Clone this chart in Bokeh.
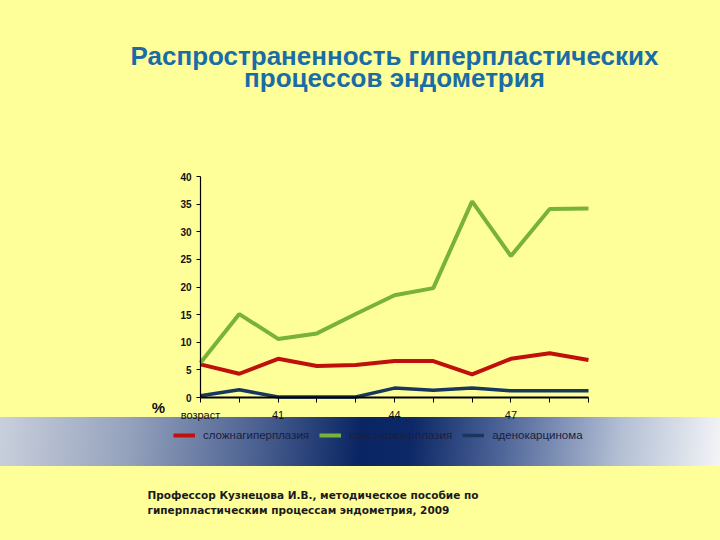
from bokeh.plotting import figure
from bokeh.models import (FixedTicker, Legend, LegendItem, Label, Range1d)
from bokeh.embed import file_html
from bokeh.resources import INLINE

# ---- data ----
x_idx = list(range(11))
x_labels = {0: "возраст", 2: "41", 5: "44", 8: "47"}
complex_hyper = [6.0, 4.3, 7.0, 5.7, 5.9, 6.6, 6.6, 4.2, 7.0, 8.0, 6.8]
simple_hyper = [6.3, 15.1, 10.6, 11.6, 15.1, 18.5, 19.8, 35.5, 25.6, 34.1, 34.2]
adenocarcinoma = [0.3, 1.4, 0.1, 0.1, 0.1, 1.7, 1.3, 1.7, 1.2, 1.2, 1.2]
series_names = ["сложнагиперплазия", "простагиперплазия", "аденокарцинома"]
y_ticks = [0, 5, 10, 15, 20, 25, 30, 35, 40]

title_line1 = "Распространенность гиперпластических"
title_line2 = "процессов эндометрия"
footer1 = "Профессор Кузнецова И.В., методическое пособие по"
footer2 = "гиперпластическим процессам эндометрия, 2009"

BG = "#ffff99"
W, H = 720, 540
# plot-area placement on the page (pixels)
PL, PR, PT, PB = 200, 588, 176, 397
XMIN, XMAX = 0, 10
YMIN, YMAX = 0, 40
xs = (PR - PL) / (XMAX - XMIN)
ys = (PB - PT) / (YMAX - YMIN)
x_range = Range1d(XMIN - PL / xs, XMAX + (W - PR) / xs)
y_range = Range1d(YMIN - (H - PB) / ys, YMAX + PT / ys)

p = figure(width=W, height=H, output_backend="svg", toolbar_location=None,
           x_range=x_range, y_range=y_range,
           min_border=0, min_border_left=0, min_border_right=0,
           min_border_top=0, min_border_bottom=0)
p.title.visible = False
p.background_fill_alpha = 0
p.border_fill_alpha = 0
p.outline_line_color = None
p.grid.visible = False
p.styles = {
    "background": "linear-gradient(95deg, #c9cfdc 0%, #95a2bd 18%, #4a6090 36%, "
                  "#0a2563 50%, #0d2866 57%, #50679a 70%, #b3bfd4 86%, #f3f4f7 100%) "
                  "0px 417px / 720px 49px no-repeat, " + BG
}

# axes (drawn at fixed data locations inside the frame)
p.xaxis.fixed_location = 0
p.xaxis.bounds = (XMIN, XMAX)
p.xaxis.ticker = FixedTicker(ticks=x_idx)
p.xaxis.major_label_overrides = {i: x_labels.get(i, "") for i in x_idx}
p.xaxis.axis_line_width = 2
p.xaxis.axis_line_color = "black"
p.xaxis.major_tick_in = 0
p.xaxis.major_tick_out = 5
p.xaxis.major_tick_line_color = "black"
p.xaxis.minor_tick_line_color = None
p.xaxis.major_label_text_font = "Liberation Sans"
p.xaxis.major_label_text_font_size = "11px"
p.xaxis.major_label_text_color = "#111111"
p.xaxis.major_label_standoff = 6

p.yaxis.fixed_location = 0
p.yaxis.bounds = (YMIN, YMAX)
p.yaxis.ticker = FixedTicker(ticks=y_ticks)
p.yaxis.axis_line_color = "black"
p.yaxis.axis_line_width = 1.2
p.yaxis.major_tick_in = 0
p.yaxis.major_tick_out = 4
p.yaxis.minor_tick_line_color = None
p.yaxis.major_label_text_font = "Liberation Sans"
p.yaxis.major_label_text_font_size = "10px"
p.yaxis.major_label_text_font_style = "bold"
p.yaxis.major_label_text_color = "#111111"
p.yaxis.major_label_standoff = 5

# lines
r1 = p.line(x_idx, complex_hyper, line_color="#c0100c", line_width=4)
r2 = p.line(x_idx, simple_hyper, line_color="#78b23a", line_width=4)
r3 = p.line(x_idx, adenocarcinoma, line_color="#17375e", line_width=3.5)

legend = Legend(items=[LegendItem(label=series_names[0], renderers=[r1]),
                       LegendItem(label=series_names[1], renderers=[r2]),
                       LegendItem(label=series_names[2], renderers=[r3])],
                orientation="horizontal", location=(173, H - 441),
                background_fill_alpha=0, border_line_alpha=0,
                label_text_font="Liberation Sans", label_text_font_size="11.5px",
                label_text_color="#1a2040", glyph_width=22, glyph_height=10,
                label_standoff=8, spacing=10, padding=0, margin=0)
p.add_layout(legend, "center")

def screen_label(x, y, text, **kw):
    p.add_layout(Label(x=x, y=H - y, x_units="screen", y_units="screen", text=text,
                       text_baseline="middle", **kw))

title_style = dict(text_font="Liberation Sans", text_font_size="26px",
                   text_font_style="bold", text_color="#1a6ca6", text_align="center")
screen_label(394, 55, title_line1, **title_style)
screen_label(394, 77, title_line2, **title_style)

screen_label(158, 407, "%", text_font="Liberation Sans", text_font_size="15px",
             text_font_style="bold", text_color="#111111", text_align="center")

foot_style = dict(text_font="DejaVu Sans", text_font_size="10.5px",
                  text_font_style="bold", text_color="#1a1a1a", text_align="left")
screen_label(147, 494, footer1, **foot_style)
screen_label(147, 509, footer2, **foot_style)

open("out.html", "w").write(file_html(p, INLINE))
